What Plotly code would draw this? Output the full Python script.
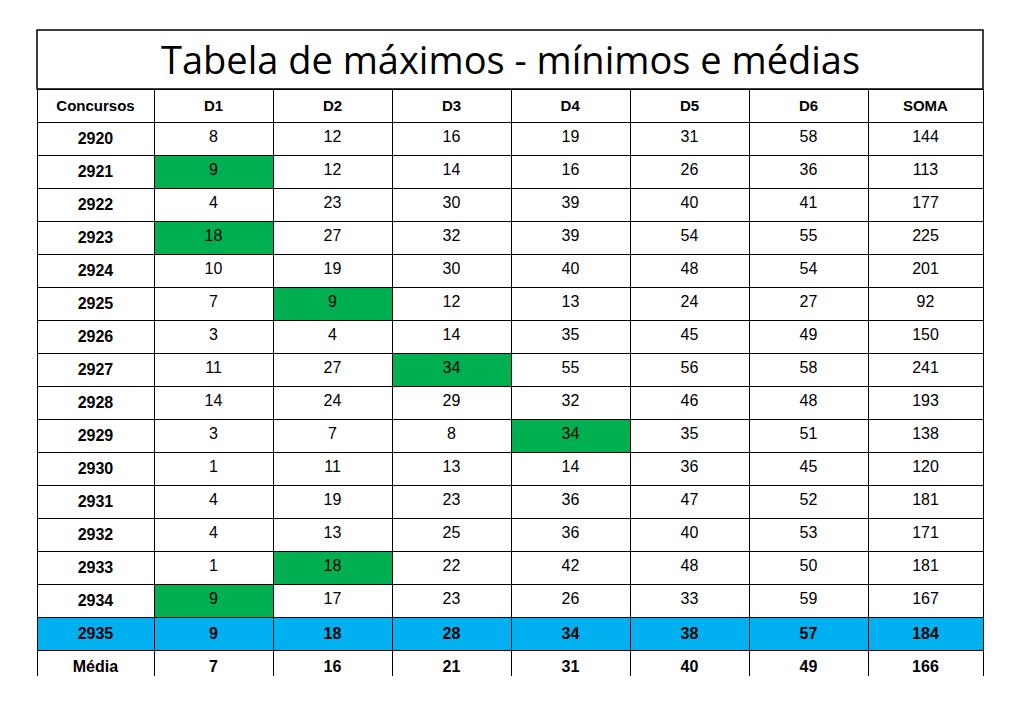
import plotly.graph_objects as go

concursos = [2920, 2921, 2922, 2923, 2924, 2925, 2926, 2927, 2928, 2929,
             2930, 2931, 2932, 2933, 2934, 2935]
d1 = [8, 9, 4, 18, 10, 7, 3, 11, 14, 3, 1, 4, 4, 1, 9, 9]
d2 = [12, 12, 23, 27, 19, 9, 4, 27, 24, 7, 11, 19, 13, 18, 17, 18]
d3 = [16, 14, 30, 32, 30, 12, 14, 34, 29, 8, 13, 23, 25, 22, 23, 28]
d4 = [19, 16, 39, 39, 40, 13, 35, 55, 32, 34, 14, 36, 36, 42, 26, 34]
d5 = [31, 26, 40, 54, 48, 24, 45, 56, 46, 35, 36, 47, 40, 48, 33, 38]
d6 = [58, 36, 41, 55, 54, 27, 49, 58, 48, 51, 45, 52, 53, 50, 59, 57]
soma = [144, 113, 177, 225, 201, 92, 150, 241, 193, 138, 120, 181, 171, 181, 167, 184]

resumo_nomes = ["Média", "Mínimo", "Máximo"]
resumo = {
    "D1": [7, 1, 18], "D2": [16, 4, 27], "D3": [21, 8, 34], "D4": [31, 13, 55],
    "D5": [40, 24, 56], "D6": [49, 27, 59], "SOMA": [166, 92, 241],
}
# highlighted (green) cells: column -> list of concursos
destaques = {"D1": [2921, 2923, 2934], "D2": [2925, 2933], "D3": [2927], "D4": [2929]}

header = ["Concursos", "D1", "D2", "D3", "D4", "D5", "D6", "SOMA"]
colunas = {"D1": d1, "D2": d2, "D3": d3, "D4": d4, "D5": d5, "D6": d6, "SOMA": soma}

n = len(concursos)
values, fills = [], []
col0 = [f"<b>{c}</b>" for c in concursos] + [f"<b>{r}</b>" for r in resumo_nomes]
values.append(col0)
fills.append(["white"] * (n - 1) + ["#00b0f0"] + ["white"] * 3)
for name in header[1:]:
    vals = [str(v) for v in colunas[name][:-1]] + [f"<b>{colunas[name][-1]}</b>"]
    vals += [f"<b>{v}</b>" for v in resumo[name]]
    values.append(vals)
    f = []
    for i, c in enumerate(concursos):
        if i == n - 1:
            f.append("#00b0f0")
        elif c in destaques.get(name, []):
            f.append("#00b050")
        else:
            f.append("white")
    fills.append(f + ["white"] * 3)

# page body adds an 8px margin, so work in figure coords shifted by 8
OFF = 8
W, H = 1001, 688
x0, x1 = 37 - OFF, 983 - OFF
y_title, y_head, y_bot = 30 - OFF, 89 - OFF, 674 - OFF
nrows = n + 3
row_h = (y_bot - y_head - 30) / nrows

fig = go.Figure(go.Table(
    domain=dict(x=[x0 / W, x1 / W], y=[1 - (y_bot + 2) / H, 1 - y_head / H]),
    columnwidth=[117, 119, 119, 119, 119, 119, 119, 115],
    header=dict(values=[f"<b>{h}</b>" for h in header], height=30,
                fill_color="white", line_color="black", align="center",
                font=dict(family="Liberation Sans", size=15, color="black")),
    cells=dict(values=values, fill_color=fills, height=row_h,
               line_color="black", align="center",
               font=dict(family="Liberation Sans", size=16, color="black")),
))
fig.add_shape(type="rect", xref="paper", yref="paper",
              x0=x0 / W, x1=x1 / W, y0=1 - y_head / H, y1=1 - y_title / H,
              line=dict(color="black", width=1.5))
fig.add_annotation(text="Tabela de máximos - mínimos e médias", xref="paper", yref="paper",
                   x=(x0 + x1) / 2 / W, y=1 - (y_title + y_head) / 2 / H,
                   xanchor="center", yanchor="middle",
                   showarrow=False, font=dict(family="Open Sans", size=38, color="black"))
fig.update_layout(width=W, height=H, margin=dict(l=0, r=0, t=0, b=0),
                  paper_bgcolor="white")
fig.write_html("out.html")
